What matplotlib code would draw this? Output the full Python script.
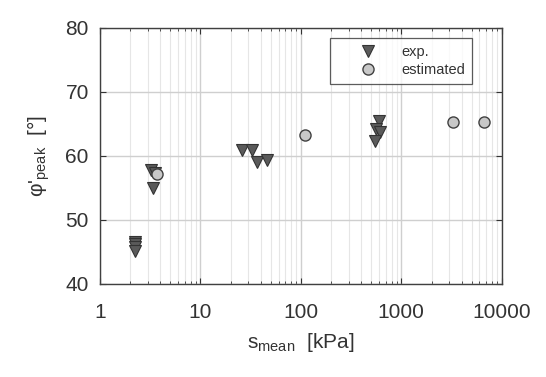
import numpy as np
import matplotlib
matplotlib.use('Agg')
import matplotlib.pyplot as plt
from matplotlib.ticker import FixedLocator, FixedFormatter, LogLocator, NullFormatter

plt.rcParams['font.family'] = ['Liberation Sans', 'DejaVu Sans']
plt.rcParams['mathtext.fontset'] = 'custom'
plt.rcParams['mathtext.rm'] = 'Liberation Sans'
plt.rcParams['mathtext.it'] = 'Liberation Sans'

# experimental points (s_mean in kPa, phi' peak in deg)
s_exp = [2.25, 2.25, 2.25, 2.25, 3.2, 3.4, 3.5, 26, 32.5, 36.5, 46, 600, 560, 620, 550]
phi_exp = [46.6, 46.2, 45.7, 45.2, 57.8, 55.0, 57.4, 60.9, 60.9, 59.1, 59.4, 65.5, 64.2, 63.7, 62.3]

# estimated points
s_est = [3.7, 110, 3300, 6600]
phi_est = [57.2, 63.2, 65.3, 65.3]

xticks = [1, 10, 100, 1000, 10000]
xticklabels = ['1', '10', '100', '1000', '10000']
yticks = [40, 50, 60, 70, 80]

fig = plt.figure(figsize=(5.46, 3.77), dpi=100)
ax = fig.add_axes([0.183, 0.247, 0.736, 0.679])

ax.set_xscale('log')
ax.set_xlim(1, 10000)
ax.set_ylim(40, 80)

ax.grid(True, which='major', color='#cfcfcf', linewidth=1.0)
ax.grid(True, which='minor', axis='x', color='#e6e6e6', linewidth=0.8)
ax.set_axisbelow(True)

ax.plot(s_exp, phi_exp, 'v', color='#5a5a5a', markeredgecolor='#333333',
        markersize=9, markeredgewidth=0.8, label='exp.', linestyle='none')
ax.plot(s_est, phi_est, 'o', color='#c8c8c8', markeredgecolor='#404040',
        markersize=8, markeredgewidth=1.0, label='estimated', linestyle='none')

ax.xaxis.set_major_locator(FixedLocator(xticks))
ax.xaxis.set_major_formatter(FixedFormatter(xticklabels))
ax.xaxis.set_minor_locator(LogLocator(base=10, subs=np.arange(2, 10)))
ax.xaxis.set_minor_formatter(NullFormatter())
ax.set_yticks(yticks)

ax.tick_params(which='both', direction='in', top=True, right=True,
               colors='#333333', labelcolor='#333333', labelsize=15)
ax.tick_params(which='major', length=4, width=0.8)
ax.tick_params(which='minor', length=2.5, width=0.6)
ax.tick_params(axis='x', pad=14)
ax.tick_params(axis='y', pad=8)

for sp in ax.spines.values():
    sp.set_color('#404040')
    sp.set_linewidth(1.0)

ax.set_xlabel(r"s$_{\mathrm{mean}}$  [kPa]", fontsize=15, color='#333333', labelpad=6)
ax.set_ylabel(r"φ'$_{\mathrm{peak}}$  [°]", fontsize=15, color='#333333', labelpad=10)

leg = ax.legend(loc='upper right', bbox_to_anchor=(0.945, 0.99), fontsize=10.5,
                frameon=True, fancybox=False, handletextpad=0.1,
                borderpad=0.5, labelspacing=0.25, handlelength=4.3)
leg.get_frame().set_edgecolor('#333333')
leg.get_frame().set_linewidth(0.9)
for t in leg.get_texts():
    t.set_color('#333333')

fig.savefig('out.png', dpi=100)
